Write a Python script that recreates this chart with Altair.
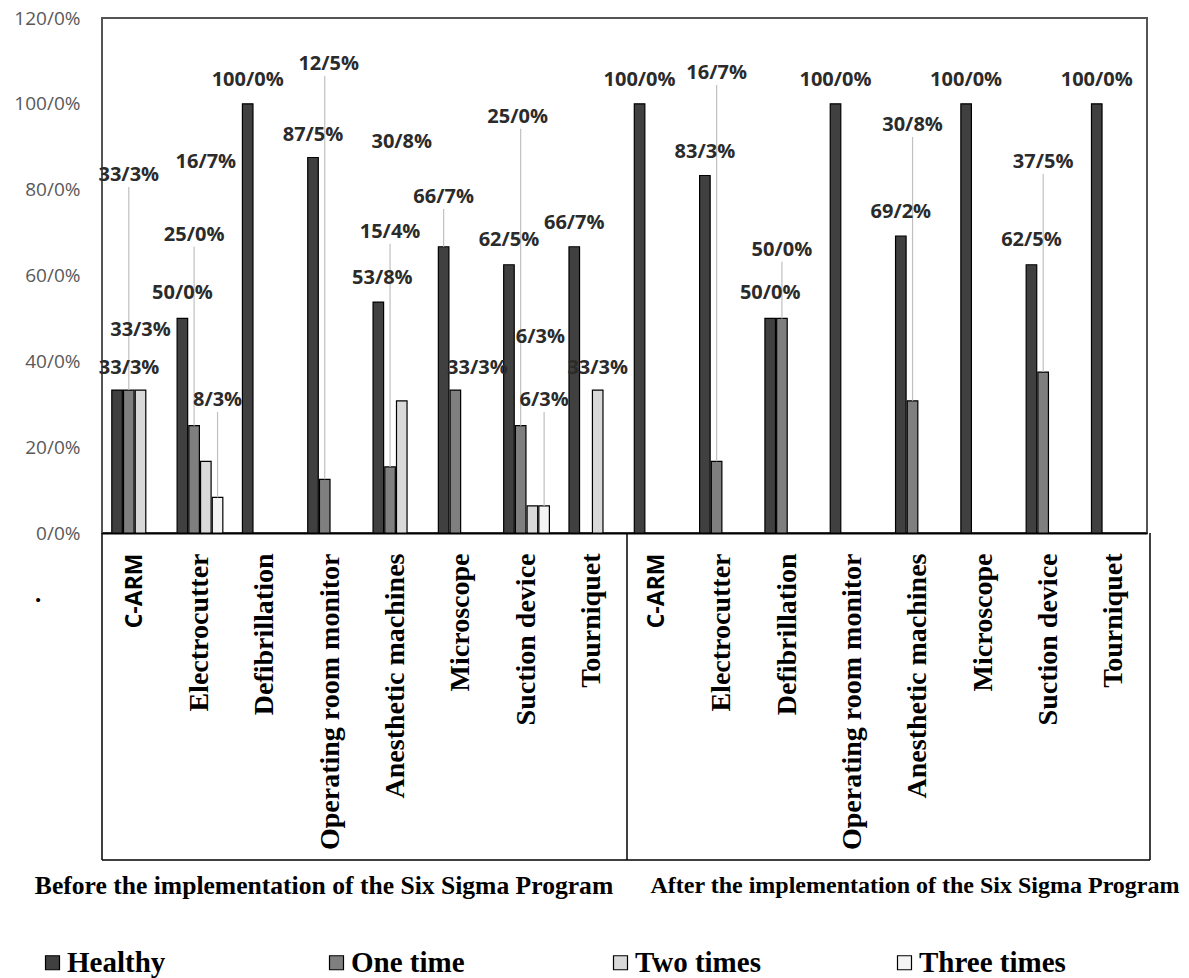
import altair as alt
import pandas as pd

# ---------------- data ----------------
periods = ["Before", "After"]
devices = ["C-ARM", "Electrocutter", "Defibrillation", "Operating room monitor",
           "Anesthetic machines", "Microscope", "Suction device", "Tourniquet"]
series = ["Healthy", "One time", "Two times", "Three times"]
colors = ["#404040", "#7f7f7f", "#d9d9d9", "#f4f4f4"]

before_healthy = [33.3, 50.0, 100.0, 87.5, 53.8, 66.7, 62.5, 66.7]
before_one = [33.3, 25.0, 0.0, 12.5, 15.4, 33.3, 25.0, 0.0]
before_two = [33.3, 16.7, 0.0, 0.0, 30.8, 0.0, 6.3, 33.3]
before_three = [0.0, 8.3, 0.0, 0.0, 0.0, 0.0, 6.3, 0.0]
after_healthy = [100.0, 83.3, 50.0, 100.0, 69.2, 100.0, 62.5, 100.0]
after_one = [0.0, 16.7, 50.0, 0.0, 30.8, 0.0, 37.5, 0.0]
after_two = [0.0, 0.0, 0.0, 0.0, 0.0, 0.0, 0.0, 0.0]
after_three = [0.0, 0.0, 0.0, 0.0, 0.0, 0.0, 0.0, 0.0]

# label layout (heights in % units where each value label sits, None = no label)
lab_before_healthy = [38.5, 55.9, 105.6, 92.8, 59.4, 78.3, 68.3, 72.3]
lab_before_one = [83.4, 69.5, None, 109.3, 70.2, 38.5, 97.0, None]
lab_before_two = [47.3, 86.5, None, None, 91.1, None, 45.7, 38.5]
lab_before_three = [None, 31.0, None, None, None, None, 31.0, None]
lab_after_healthy = [105.6, 88.8, 55.9, 105.6, 74.8, 105.6, 68.3, 105.6]
lab_after_one = [None, 107.2, 66.0, None, 95.1, None, 86.5, None]
lab_none = [None] * 8

# leader lines (1 = label connected to its bar)
lead_before_healthy = [0, 0, 0, 0, 0, 1, 0, 0]
lead_before_one = [1, 1, 0, 1, 1, 0, 1, 0]
lead_before_two = [0, 0, 0, 0, 0, 0, 0, 0]
lead_before_three = [0, 1, 0, 0, 0, 0, 1, 0]
lead_after_healthy = [0] * 8
lead_after_one = [0, 1, 1, 0, 1, 0, 1, 0]
lead_zero = [0] * 8

# horizontal label shift (px)
shift_before_healthy = [12, 0, 0, 0, 4, 0, 0, 0]
shift_before_one = [0, 0, 0, 4, 0, 22, -3, 0]
shift_before_two = [0, 0, 0, 0, 0, 0, 8, 0]
shift_zero = [0] * 8

vals = {
    ("Before", "Healthy"): before_healthy, ("Before", "One time"): before_one,
    ("Before", "Two times"): before_two, ("Before", "Three times"): before_three,
    ("After", "Healthy"): after_healthy, ("After", "One time"): after_one,
    ("After", "Two times"): after_two, ("After", "Three times"): after_three,
}
labs = {
    ("Before", "Healthy"): lab_before_healthy, ("Before", "One time"): lab_before_one,
    ("Before", "Two times"): lab_before_two, ("Before", "Three times"): lab_before_three,
    ("After", "Healthy"): lab_after_healthy, ("After", "One time"): lab_after_one,
    ("After", "Two times"): lab_none, ("After", "Three times"): lab_none,
}
leads = {
    ("Before", "Healthy"): lead_before_healthy, ("Before", "One time"): lead_before_one,
    ("Before", "Two times"): lead_before_two, ("Before", "Three times"): lead_before_three,
    ("After", "Healthy"): lead_after_healthy, ("After", "One time"): lead_after_one,
    ("After", "Two times"): lead_zero, ("After", "Three times"): lead_zero,
}
shifts = {
    ("Before", "Healthy"): shift_before_healthy, ("Before", "One time"): shift_before_one,
    ("Before", "Two times"): shift_before_two, ("Before", "Three times"): shift_zero,
    ("After", "Healthy"): shift_zero, ("After", "One time"): shift_zero,
    ("After", "Two times"): shift_zero, ("After", "Three times"): shift_zero,
}

rows = []
for p in periods:
    for s in series:
        for i, d in enumerate(devices):
            rows.append(dict(key=f"{p}:{d}", series=s, value=vals[(p, s)][i],
                             label_y=labs[(p, s)][i], leader=leads[(p, s)][i],
                             dx=shifts[(p, s)][i]))
df = pd.DataFrame(rows)
keys = [f"{p}:{d}" for p in periods for d in devices]

W, H = 1045, 515

xenc = alt.X("key:N", sort=keys, title=None,
             scale=alt.Scale(paddingInner=0.3, paddingOuter=0.15),
             axis=alt.Axis(labelExpr="split(datum.value, ':')[1]", labelAngle=270,
                           labelPadding=20, labelLimit=400, ticks=False,
                           domainColor="black", domainWidth=2,
                           labelFont={"condition": {"test": "indexof(datum.value, 'C-ARM') >= 0", "value": "Open Sans"}, "value": "Liberation Serif"},
                           labelFontSize={"condition": {"test": "indexof(datum.value, 'C-ARM') >= 0", "value": 23}, "value": 28},
                           labelFontWeight="bold", labelColor="black", labelOverlap=False))
xoff = alt.XOffset("series:N", sort=series, scale=alt.Scale(paddingInner=0.1, paddingOuter=0))
yscale = alt.Scale(domain=[0, 120], nice=False)
yaxis = alt.Axis(values=[0, 20, 40, 60, 80, 100, 120], title=None, domain=False, ticks=False,
                 grid=False, labelPadding=22, labelFont="Open Sans", labelFontSize=19,
                 labelColor="#595959",
                 labelExpr="replace(format(datum.value, '.1f'), '.', '/') + '%'")

bars = alt.Chart(df).transform_filter("datum.value > 0").mark_bar(
    stroke="black", strokeWidth=1.2).encode(
    x=xenc, xOffset=xoff,
    y=alt.Y("value:Q", scale=yscale, axis=yaxis),
    color=alt.Color("series:N", sort=series,
                    scale=alt.Scale(domain=series, range=colors),
                    legend=alt.Legend(orient="none", legendX=-64, legendY=930,
                                      direction="horizontal", columns=4, gridAlign="all",
                                      columnPadding=108, title=None, symbolType="square",
                                      symbolSize=196, symbolStrokeColor="black",
                                      symbolStrokeWidth=1.2, labelFont="Liberation Serif",
                                      labelFontSize=29, labelFontWeight="bold",
                                      labelColor="black", labelLimit=400, labelOffset=0)),
)

leaders = alt.Chart(df).transform_filter("datum.leader == 1").transform_calculate(
    top="datum.label_y - 2.8").mark_rule(color="#c0c0c0", strokeWidth=1.2).encode(
    x=alt.X("key:N", sort=keys), xOffset=alt.XOffset("series:N", sort=series),
    y=alt.Y("top:Q", scale=yscale, axis=None), y2="value:Q")

label_layers = []
for d in sorted(set(df["dx"])):
    label_layers.append(
        alt.Chart(df).transform_filter(f"datum.label_y != null && datum.dx == {d}")
        .transform_calculate(txt="replace(format(datum.value, '.1f'), '.', '/') + '%'")
        .mark_text(dx=int(d), font="Open Sans", fontSize=20, fontWeight="bold",
                   color="#2b2b2b", baseline="middle", align="center")
        .encode(x=alt.X("key:N", sort=keys), xOffset=alt.XOffset("series:N", sort=series),
                y=alt.Y("label_y:Q", scale=yscale, axis=None), text="txt:N"))

# lower category box (pixel geometry of the frame)
frame = pd.DataFrame({
    "x": [0, 1048, 525, 0],
    "x2": [0, 1048, 525, 1048],
    "y": [515, 515, 515, 842],
    "y2": [842, 842, 842, 842],
})
box = alt.Chart(frame).mark_rule(color="black", strokeWidth=1.5).encode(
    x=alt.X("x:Q", scale=None, axis=None), x2="x2:Q",
    y=alt.Y("y:Q", scale=None, axis=None), y2="y2:Q")

titles_df = pd.DataFrame({
    "t": ["Before the implementation of the Six Sigma Program",
          "After the implementation of the Six Sigma Program", "."],
    "px": [222, 813, -64], "py": [868, 868, 576], "fs": [25.6, 24, 25],
})
titles = alt.Chart(titles_df).mark_text(font="Liberation Serif",
                                        fontWeight="bold", color="black",
                                        baseline="middle").encode(
    x=alt.X("px:Q", scale=None, axis=None), y=alt.Y("py:Q", scale=None, axis=None),
    size=alt.Size("fs:Q", scale=None, legend=None), text="t:N")

chart = alt.layer(bars, leaders, *label_layers, box, titles).resolve_scale(
    x="shared", y="independent"
).properties(
    width=W, height=H,
    autosize=alt.AutoSizeParams(type="none"),
    padding={"left": 102, "top": 18, "right": 42, "bottom": 445},
).configure_view(stroke="#555555", strokeWidth=2)

chart.save("out.html", embed_options={"renderer": "svg", "actions": False})
